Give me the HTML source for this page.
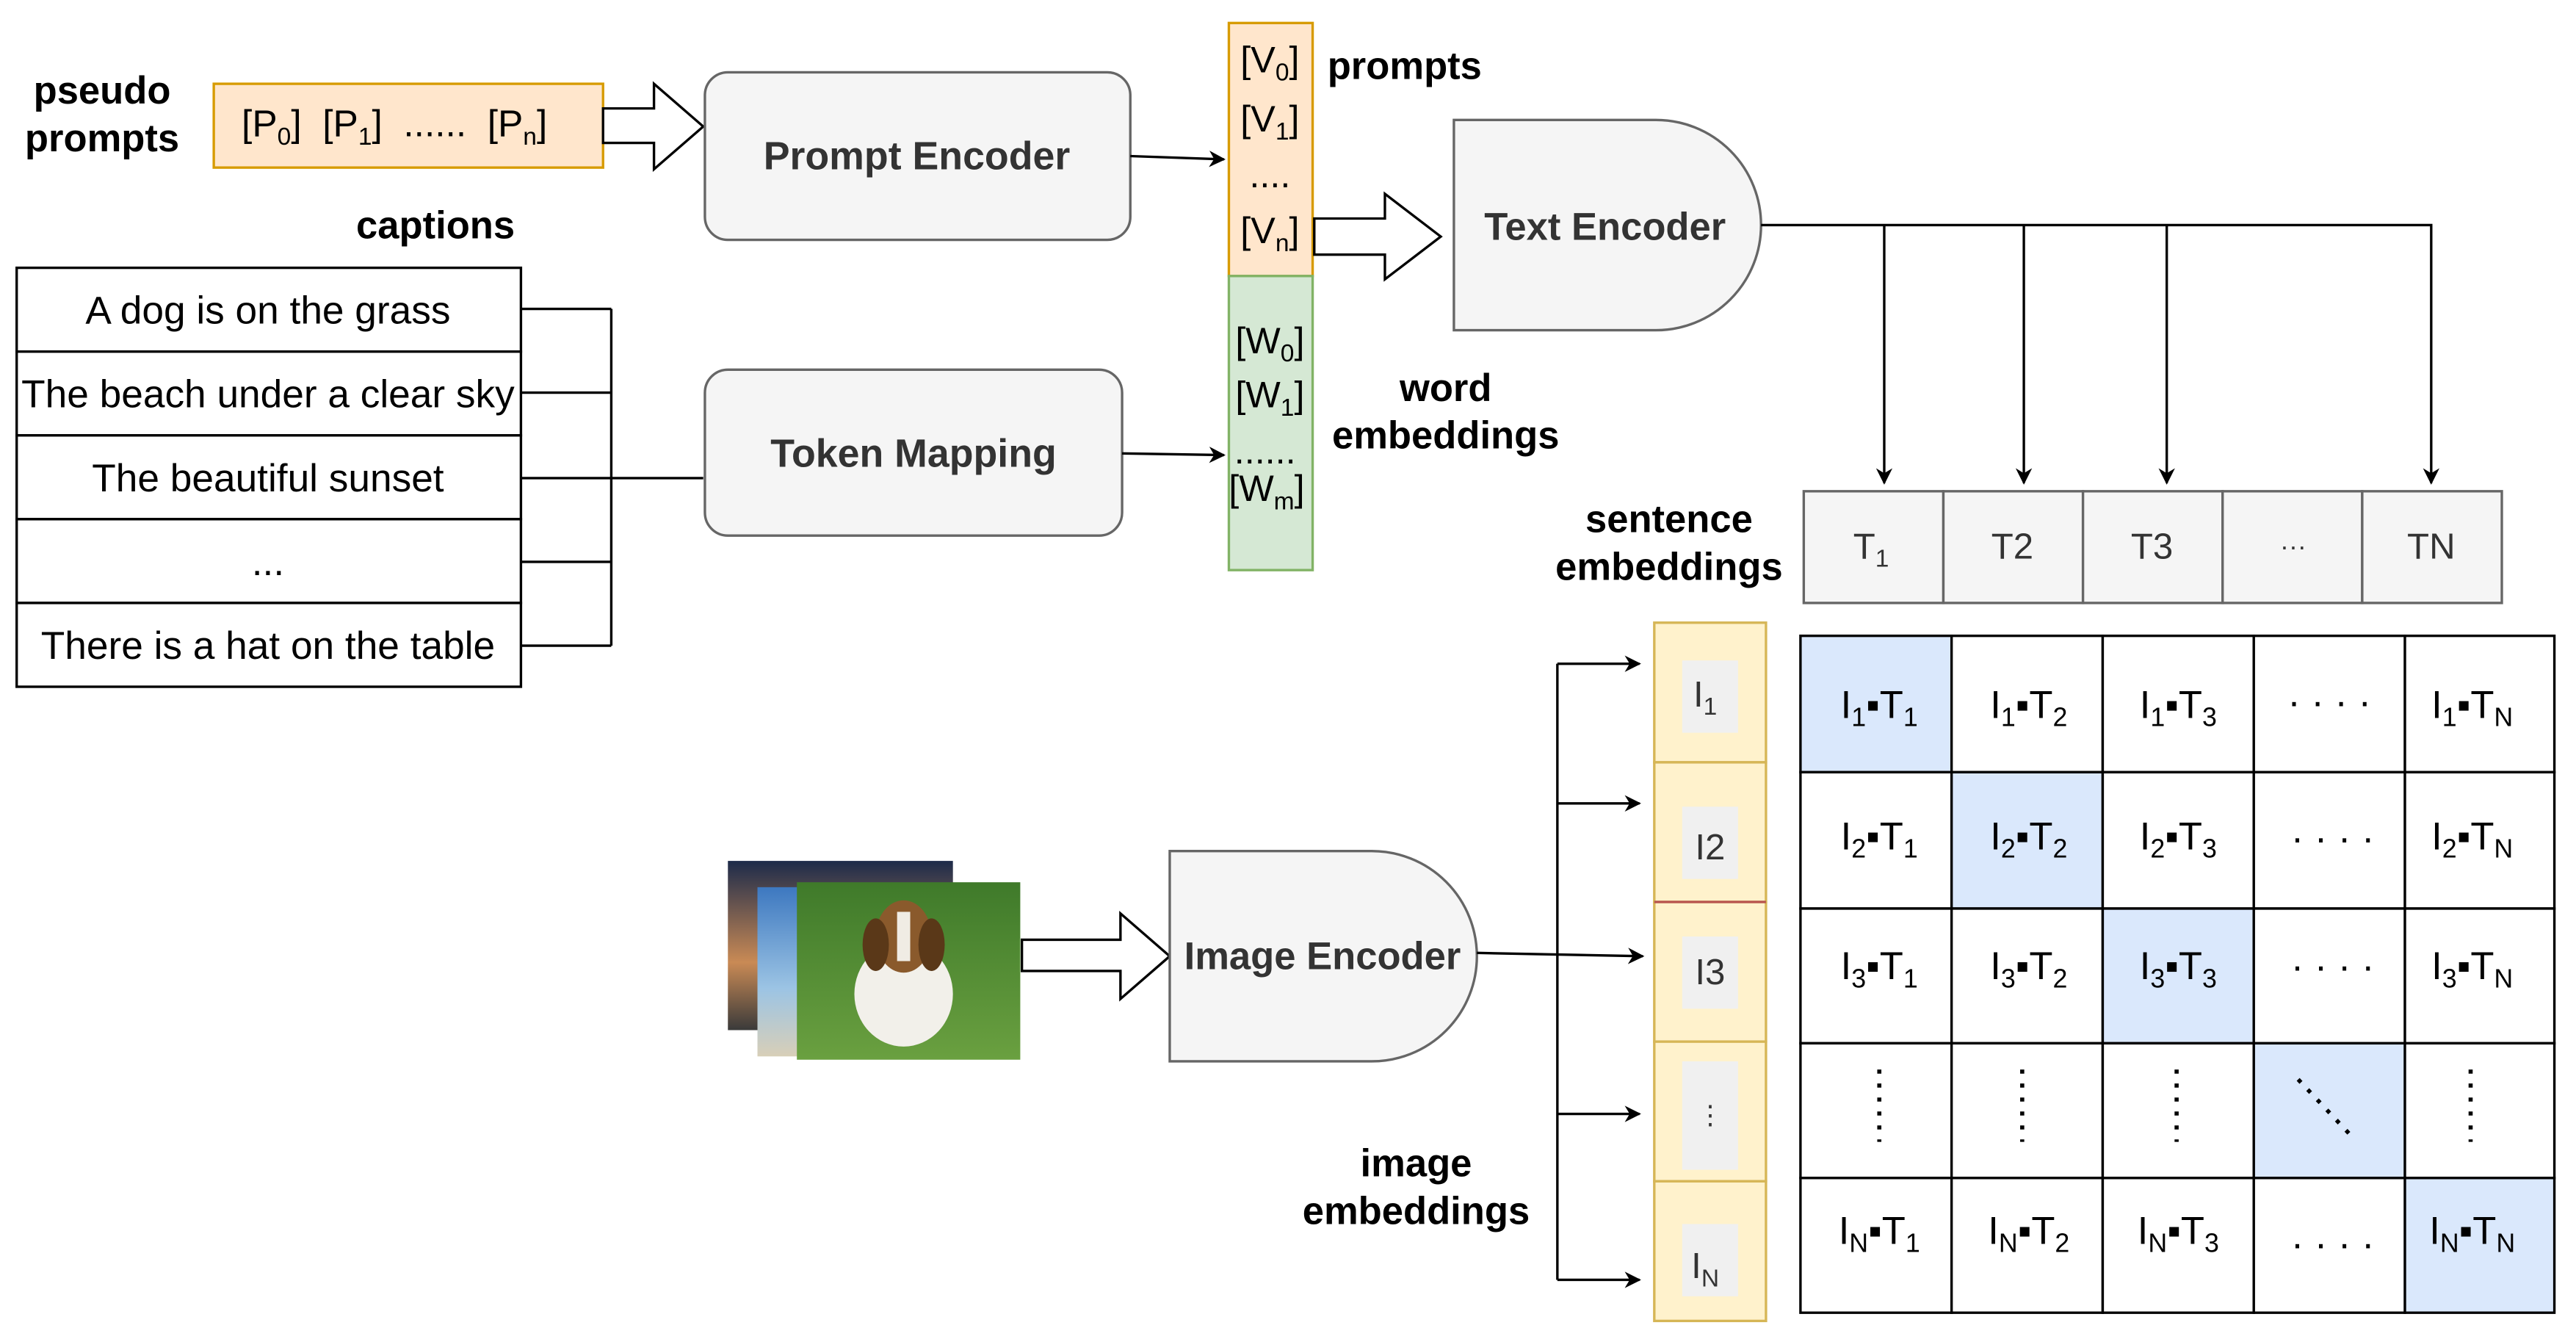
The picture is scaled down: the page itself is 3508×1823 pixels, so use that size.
<!DOCTYPE html>
<html><head><meta charset="utf-8"><style>html,body{margin:0;padding:0;background:#fff}svg{display:block}</style></head>
<body>
<svg width="3508" height="1823" viewBox="0 0 1568 815" xmlns="http://www.w3.org/2000/svg" font-family="Liberation Sans, sans-serif">
<defs>
<marker id="a" markerWidth="10" markerHeight="10" refX="9" refY="5" orient="auto" markerUnits="userSpaceOnUse"><path d="M0,0 L10,5 L0,10 L3,5 z" fill="#000"/></marker>
<linearGradient id="sky" x1="0" y1="0" x2="0" y2="1"><stop offset="0" stop-color="#1d2b4a"/><stop offset="0.6" stop-color="#c98a55"/><stop offset="1" stop-color="#3a3a3a"/></linearGradient>
<linearGradient id="sky2" x1="0" y1="0" x2="0" y2="1"><stop offset="0" stop-color="#3d78c0"/><stop offset="0.6" stop-color="#9cc4e4"/><stop offset="1" stop-color="#d8cfb8"/></linearGradient>
<linearGradient id="grass" x1="0" y1="0" x2="0" y2="1"><stop offset="0" stop-color="#3f7a2a"/><stop offset="1" stop-color="#6aa040"/></linearGradient>
</defs>
<g font-weight="bold" font-size="23.5" fill="#000" text-anchor="middle">
<text x="62" y="63">pseudo</text><text x="62" y="92">prompts</text>
<text x="855" y="48">prompts</text>
<text x="265" y="145">captions</text>
<text x="880" y="244">word</text><text x="880" y="273">embeddings</text>
<text x="1016" y="324">sentence</text><text x="1016" y="353">embeddings</text>
<text x="862" y="716">image</text><text x="862" y="745">embeddings</text>
</g>
<rect x="130" y="51" width="237" height="51" fill="#ffe6cc" stroke="#d79b00" stroke-width="1.5"/>
<text x="240" y="83" font-size="23" text-anchor="middle" xml:space="preserve">[P<tspan font-size="15" dy="5">0</tspan><tspan dy="-5">]  [P</tspan><tspan font-size="15" dy="5">1</tspan><tspan dy="-5">]  ......  [P</tspan><tspan font-size="15" dy="5">n</tspan><tspan dy="-5">]</tspan></text>
<path d="M367,66 L398,66 L398,51 L428,77 L398,103 L398,87 L367,87 z" fill="#fff" stroke="#000" stroke-width="1.5"/>
<rect x="429" y="44" width="259" height="102" rx="14" fill="#f5f5f5" stroke="#666" stroke-width="1.5"/>
<text x="558" y="103" font-size="24" font-weight="bold" fill="#333" text-anchor="middle">Prompt Encoder</text>
<line x1="688" y1="95" x2="745" y2="97" stroke="#000" stroke-width="1.5" marker-end="url(#a)"/>
<rect x="748" y="14" width="51" height="154" fill="#ffe6cc" stroke="#d79b00" stroke-width="1.5"/>
<rect x="748" y="168" width="51" height="179" fill="#d5e8d4" stroke="#82b366" stroke-width="1.5"/>
<g font-size="22.5" text-anchor="middle">
<text x="773" y="44">[V<tspan font-size="15" dy="5">0</tspan><tspan dy="-5">]</tspan></text>
<text x="773" y="80">[V<tspan font-size="15" dy="5">1</tspan><tspan dy="-5">]</tspan></text>
<text x="773" y="114">....</text>
<text x="773" y="148">[V<tspan font-size="15" dy="5">n</tspan><tspan dy="-5">]</tspan></text>
<text x="773" y="215">[W<tspan font-size="15" dy="5">0</tspan><tspan dy="-5">]</tspan></text>
<text x="773" y="248">[W<tspan font-size="15" dy="5">1</tspan><tspan dy="-5">]</tspan></text>
<text x="770" y="282">......</text>
<text x="771" y="305">[W<tspan font-size="15" dy="5">m</tspan><tspan dy="-5">]</tspan></text>
</g>
<path d="M800,133 L843,133 L843,118 L877,144 L843,170 L843,155 L800,155 z" fill="#fff" stroke="#000" stroke-width="1.5"/>
<path d="M885,73 L1008,73 A64,64 0 0 1 1008,201 L885,201 z" fill="#f5f5f5" stroke="#666" stroke-width="1.5"/>
<text x="977" y="146" font-size="23.5" font-weight="bold" fill="#333" text-anchor="middle">Text Encoder</text>
<g stroke="#000" stroke-width="1.5" fill="none">
<polyline points="1072,137 1480,137 1480,294" marker-end="url(#a)"/>
<line x1="1147" y1="137" x2="1147" y2="294" marker-end="url(#a)"/>
<line x1="1232" y1="137" x2="1232" y2="294" marker-end="url(#a)"/>
<line x1="1319" y1="137" x2="1319" y2="294" marker-end="url(#a)"/>
</g>
<g fill="#f5f5f5" stroke="#666" stroke-width="1.5">
<rect x="1098" y="299" width="85" height="68"/><rect x="1183" y="299" width="85" height="68"/><rect x="1268" y="299" width="85" height="68"/><rect x="1353" y="299" width="85" height="68"/><rect x="1438" y="299" width="85" height="68"/>
</g>
<g font-size="22" fill="#333" text-anchor="middle">
<text x="1139" y="340">T<tspan font-size="15" dy="5">1</tspan></text>
<text x="1225" y="340">T2</text><text x="1310" y="340">T3</text><text x="1396" y="338" font-size="16">···</text><text x="1480" y="340">TN</text>
</g>
<g fill="#fff" stroke="#000" stroke-width="1.5">
<rect x="10" y="163" width="307" height="51"/><rect x="10" y="214" width="307" height="51"/><rect x="10" y="265" width="307" height="51"/><rect x="10" y="316" width="307" height="51"/><rect x="10" y="367" width="307" height="51"/>
</g>
<g font-size="23.8" text-anchor="middle">
<text x="163" y="197">A dog is on the grass</text>
<text x="163" y="248">The beach under a clear sky</text>
<text x="163" y="299">The beautiful sunset</text>
<text x="163" y="350">...</text>
<text x="163" y="401">There is a hat on the table</text>
</g>
<g stroke="#000" stroke-width="1.5" fill="none">
<line x1="317" y1="188" x2="372" y2="188"/><line x1="317" y1="239" x2="372" y2="239"/><line x1="317" y1="291" x2="428" y2="291"/><line x1="317" y1="342" x2="372" y2="342"/><line x1="317" y1="393" x2="372" y2="393"/>
<line x1="372" y1="188" x2="372" y2="393"/>
</g>
<rect x="429" y="225" width="254" height="101" rx="14" fill="#f5f5f5" stroke="#666" stroke-width="1.5"/>
<text x="556" y="284" font-size="24" font-weight="bold" fill="#333" text-anchor="middle">Token Mapping</text>
<line x1="683" y1="276" x2="745" y2="277" stroke="#000" stroke-width="1.5" marker-end="url(#a)"/>
<rect x="443" y="524" width="137" height="103" fill="url(#sky)"/>
<rect x="461" y="540" width="100" height="103" fill="url(#sky2)"/>
<rect x="485" y="537" width="136" height="108" fill="url(#grass)"/>
<ellipse cx="550" cy="605" rx="30" ry="32" fill="#f2f0ea"/>
<ellipse cx="550" cy="570" rx="17" ry="22" fill="#8a5a2c"/>
<rect x="546" y="555" width="8" height="30" fill="#f0ece4"/>
<ellipse cx="533" cy="575" rx="8" ry="16" fill="#5a3818"/><ellipse cx="567" cy="575" rx="8" ry="16" fill="#5a3818"/>
<path d="M622,572 L682,572 L682,556 L712,582 L682,608 L682,591 L622,591 z" fill="#fff" stroke="#000" stroke-width="1.5"/>
<path d="M712,518 L835,518 A64,64 0 0 1 835,646 L712,646 z" fill="#f5f5f5" stroke="#666" stroke-width="1.5"/>
<text x="805" y="590" font-size="23.5" font-weight="bold" fill="#333" text-anchor="middle">Image Encoder</text>
<line x1="899" y1="580" x2="1000" y2="582" stroke="#000" stroke-width="1.5" marker-end="url(#a)"/>
<g stroke="#000" stroke-width="1.5" fill="none">
<line x1="948" y1="404" x2="948" y2="779"/>
<line x1="948" y1="404" x2="998" y2="404" marker-end="url(#a)"/>
<line x1="948" y1="489" x2="998" y2="489" marker-end="url(#a)"/>
<line x1="948" y1="678" x2="998" y2="678" marker-end="url(#a)"/>
<line x1="948" y1="779" x2="998" y2="779" marker-end="url(#a)"/>
</g>
<g fill="#fff2cc" stroke="#d6b656" stroke-width="1.5">
<rect x="1007" y="379" width="68" height="85"/><rect x="1007" y="464" width="68" height="85"/><rect x="1007" y="549" width="68" height="85"/><rect x="1007" y="634" width="68" height="85"/><rect x="1007" y="719" width="68" height="85"/>
</g>
<line x1="1007" y1="549" x2="1075" y2="549" stroke="#b85450" stroke-width="1.5"/>
<g fill="#f0f0f0">
<rect x="1024" y="402" width="34" height="44"/><rect x="1024" y="491" width="34" height="44"/><rect x="1024" y="570" width="34" height="44"/><rect x="1024" y="646" width="34" height="66"/><rect x="1024" y="745" width="34" height="44"/>
</g>
<g font-size="22" fill="#333" text-anchor="middle">
<text x="1038" y="430">I<tspan font-size="15" dy="5">1</tspan></text>
<text x="1041" y="523">I2</text><text x="1041" y="599">I3</text><text x="1041" y="684" font-size="16">⋮</text>
<text x="1038" y="778">I<tspan font-size="15" dy="5">N</tspan></text>
</g>
<g stroke="#000" stroke-width="1.5">
<rect x="1096" y="387" width="92" height="83" fill="#dae8fc"/><rect x="1188" y="387" width="92" height="83" fill="#fff"/><rect x="1280" y="387" width="92" height="83" fill="#fff"/><rect x="1372" y="387" width="92" height="83" fill="#fff"/><rect x="1464" y="387" width="91" height="83" fill="#fff"/>
<rect x="1096" y="470" width="92" height="83" fill="#fff"/><rect x="1188" y="470" width="92" height="83" fill="#dae8fc"/><rect x="1280" y="470" width="92" height="83" fill="#fff"/><rect x="1372" y="470" width="92" height="83" fill="#fff"/><rect x="1464" y="470" width="91" height="83" fill="#fff"/>
<rect x="1096" y="553" width="92" height="82" fill="#fff"/><rect x="1188" y="553" width="92" height="82" fill="#fff"/><rect x="1280" y="553" width="92" height="82" fill="#dae8fc"/><rect x="1372" y="553" width="92" height="82" fill="#fff"/><rect x="1464" y="553" width="91" height="82" fill="#fff"/>
<rect x="1096" y="635" width="92" height="82" fill="#fff"/><rect x="1188" y="635" width="92" height="82" fill="#fff"/><rect x="1280" y="635" width="92" height="82" fill="#fff"/><rect x="1372" y="635" width="92" height="82" fill="#dae8fc"/><rect x="1464" y="635" width="91" height="82" fill="#fff"/>
<rect x="1096" y="717" width="92" height="82" fill="#fff"/><rect x="1188" y="717" width="92" height="82" fill="#fff"/><rect x="1280" y="717" width="92" height="82" fill="#fff"/><rect x="1372" y="717" width="92" height="82" fill="#fff"/><rect x="1464" y="717" width="91" height="82" fill="#dae8fc"/>
</g>
<g font-size="23.5" text-anchor="middle">
<text x="1144" y="437">I<tspan font-size="16" dy="5">1</tspan><tspan dy="-5">▪T</tspan><tspan font-size="16" dy="5">1</tspan></text>
<text x="1235" y="437">I<tspan font-size="16" dy="5">1</tspan><tspan dy="-5">▪T</tspan><tspan font-size="16" dy="5">2</tspan></text>
<text x="1326" y="437">I<tspan font-size="16" dy="5">1</tspan><tspan dy="-5">▪T</tspan><tspan font-size="16" dy="5">3</tspan></text>
<text x="1418" y="435">· · · ·</text>
<text x="1505" y="437">I<tspan font-size="16" dy="5">1</tspan><tspan dy="-5">▪T</tspan><tspan font-size="16" dy="5">N</tspan></text>
<text x="1144" y="517">I<tspan font-size="16" dy="5">2</tspan><tspan dy="-5">▪T</tspan><tspan font-size="16" dy="5">1</tspan></text>
<text x="1235" y="517">I<tspan font-size="16" dy="5">2</tspan><tspan dy="-5">▪T</tspan><tspan font-size="16" dy="5">2</tspan></text>
<text x="1326" y="517">I<tspan font-size="16" dy="5">2</tspan><tspan dy="-5">▪T</tspan><tspan font-size="16" dy="5">3</tspan></text>
<text x="1420" y="518">· · · ·</text>
<text x="1505" y="517">I<tspan font-size="16" dy="5">2</tspan><tspan dy="-5">▪T</tspan><tspan font-size="16" dy="5">N</tspan></text>
<text x="1144" y="596">I<tspan font-size="16" dy="5">3</tspan><tspan dy="-5">▪T</tspan><tspan font-size="16" dy="5">1</tspan></text>
<text x="1235" y="596">I<tspan font-size="16" dy="5">3</tspan><tspan dy="-5">▪T</tspan><tspan font-size="16" dy="5">2</tspan></text>
<text x="1326" y="596">I<tspan font-size="16" dy="5">3</tspan><tspan dy="-5">▪T</tspan><tspan font-size="16" dy="5">3</tspan></text>
<text x="1420" y="596">· · · ·</text>
<text x="1505" y="596">I<tspan font-size="16" dy="5">3</tspan><tspan dy="-5">▪T</tspan><tspan font-size="16" dy="5">N</tspan></text>
<text x="1144" y="757">I<tspan font-size="16" dy="5">N</tspan><tspan dy="-5">▪T</tspan><tspan font-size="16" dy="5">1</tspan></text>
<text x="1235" y="757">I<tspan font-size="16" dy="5">N</tspan><tspan dy="-5">▪T</tspan><tspan font-size="16" dy="5">2</tspan></text>
<text x="1326" y="757">I<tspan font-size="16" dy="5">N</tspan><tspan dy="-5">▪T</tspan><tspan font-size="16" dy="5">3</tspan></text>
<text x="1420" y="765">· · · ·</text>
<text x="1505" y="757">I<tspan font-size="16" dy="5">N</tspan><tspan dy="-5">▪T</tspan><tspan font-size="16" dy="5">N</tspan></text>
</g>
<g stroke="#000" stroke-width="2.5" stroke-dasharray="2.5,6">
<line x1="1144" y1="651" x2="1144" y2="695"/><line x1="1231" y1="651" x2="1231" y2="695"/><line x1="1325" y1="651" x2="1325" y2="695"/><line x1="1504" y1="651" x2="1504" y2="695"/>
<line x1="1399" y1="657" x2="1431" y2="691"/>
</g>
</svg>
</body></html>
